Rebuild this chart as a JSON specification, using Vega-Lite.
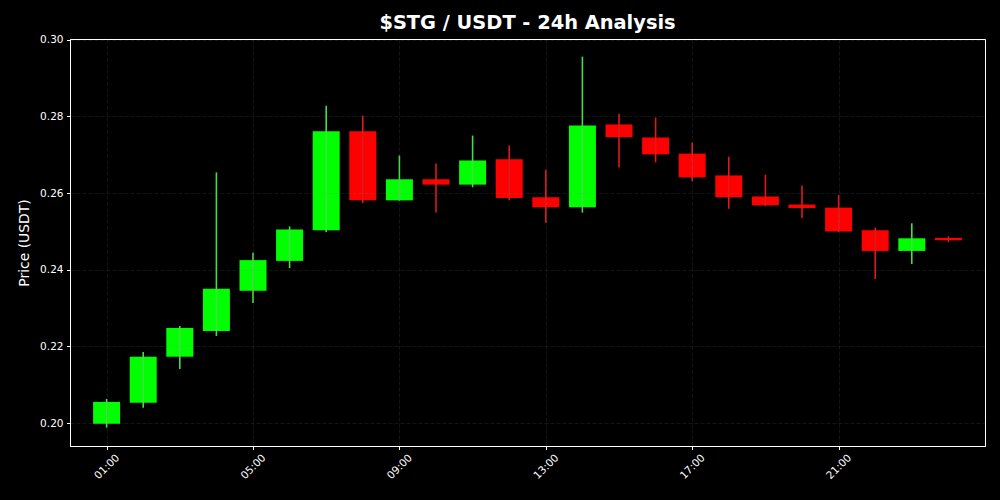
{
  "$schema": "https://vega.github.io/schema/vega-lite/v6.json",
  "width": 915,
  "height": 407,
  "autosize": "none",
  "padding": {"left": 70, "top": 39, "right": 15, "bottom": 54},
  "background": "#000000",
  "title": {"text": "$STG / USDT - 24h Analysis", "font": "DejaVu Sans", "fontSize": 19.4, "fontWeight": "bold", "color": "#ffffff", "offset": 1, "anchor": "middle"},
  "config": {
    "view": {"stroke": "#ffffff", "strokeWidth": 1, "fill": "#000000"},
    "axis": {"labelFont": "DejaVu Sans", "titleFont": "DejaVu Sans", "labelColor": "#ffffff", "titleColor": "#ffffff", "domainColor": "#ffffff", "tickColor": "#ffffff", "tickSize": 3.5, "gridColor": "#808080", "gridOpacity": 0.2, "gridDash": [4, 2], "gridWidth": 0.8}
  },
  "data": {"values": [
    {"hour": 1, "open": 0.1998, "high": 0.2063, "low": 0.1988, "close": 0.2055, "dir": "up"},
    {"hour": 2, "open": 0.2053, "high": 0.2185, "low": 0.2040, "close": 0.2173, "dir": "up"},
    {"hour": 3, "open": 0.2173, "high": 0.2253, "low": 0.2141, "close": 0.2248, "dir": "up"},
    {"hour": 4, "open": 0.2240, "high": 0.2654, "low": 0.2227, "close": 0.2350, "dir": "up"},
    {"hour": 5, "open": 0.2345, "high": 0.2444, "low": 0.2313, "close": 0.2425, "dir": "up"},
    {"hour": 6, "open": 0.2423, "high": 0.2513, "low": 0.2404, "close": 0.2505, "dir": "up"},
    {"hour": 7, "open": 0.2503, "high": 0.2828, "low": 0.2498, "close": 0.2761, "dir": "up"},
    {"hour": 8, "open": 0.2761, "high": 0.2802, "low": 0.2574, "close": 0.2581, "dir": "down"},
    {"hour": 9, "open": 0.2581, "high": 0.2698, "low": 0.2580, "close": 0.2636, "dir": "up"},
    {"hour": 10, "open": 0.2636, "high": 0.2677, "low": 0.2549, "close": 0.2622, "dir": "down"},
    {"hour": 11, "open": 0.2622, "high": 0.2750, "low": 0.2615, "close": 0.2685, "dir": "up"},
    {"hour": 12, "open": 0.2688, "high": 0.2724, "low": 0.2581, "close": 0.2587, "dir": "down"},
    {"hour": 13, "open": 0.2589, "high": 0.2661, "low": 0.2522, "close": 0.2563, "dir": "down"},
    {"hour": 14, "open": 0.2563, "high": 0.2956, "low": 0.2549, "close": 0.2776, "dir": "up"},
    {"hour": 15, "open": 0.2779, "high": 0.2807, "low": 0.2667, "close": 0.2746, "dir": "down"},
    {"hour": 16, "open": 0.2745, "high": 0.2797, "low": 0.2680, "close": 0.2701, "dir": "down"},
    {"hour": 17, "open": 0.2703, "high": 0.2732, "low": 0.2631, "close": 0.2641, "dir": "down"},
    {"hour": 18, "open": 0.2646, "high": 0.2695, "low": 0.2559, "close": 0.2589, "dir": "down"},
    {"hour": 19, "open": 0.2591, "high": 0.2648, "low": 0.2566, "close": 0.2568, "dir": "down"},
    {"hour": 20, "open": 0.2570, "high": 0.2620, "low": 0.2535, "close": 0.2561, "dir": "down"},
    {"hour": 21, "open": 0.2562, "high": 0.2595, "low": 0.2498, "close": 0.2500, "dir": "down"},
    {"hour": 22, "open": 0.2503, "high": 0.2510, "low": 0.2376, "close": 0.2449, "dir": "down"},
    {"hour": 23, "open": 0.2449, "high": 0.2521, "low": 0.2415, "close": 0.2482, "dir": "up"},
    {"hour": 24, "open": 0.2483, "high": 0.2487, "low": 0.2472, "close": 0.2477, "dir": "down"}
  ]},
  "encoding": {
    "x": {"field": "hour", "type": "quantitative", "scale": {"domain": [0, 25], "nice": false, "zero": false, "padding": 0},
      "axis": {"title": null, "values": [1, 5, 9, 13, 17, 21], "labelExpr": "(datum.value < 10 ? '0' : '') + datum.value + ':00'", "labelAngle": -45, "labelAlign": "center", "labelBaseline": "middle", "labelPadding": 17, "labelFontSize": 10.5, "grid": true, "zindex": 1}}
  },
  "layer": [
    {
      "mark": {"type": "bar", "size": 27},
      "encoding": {
        "y": {"field": "open", "type": "quantitative", "scale": {"domain": [0.194, 0.3002], "nice": false, "zero": false},
          "axis": {"title": "Price (USDT)", "titleFontSize": 13.9, "titleFontWeight": "normal", "titlePadding": 8, "values": [0.20, 0.22, 0.24, 0.26, 0.28, 0.30], "format": ".2f", "labelFontSize": 10.5, "labelPadding": 3.5, "grid": true, "zindex": 1}},
        "y2": {"field": "close"},
        "color": {"field": "dir", "type": "nominal", "scale": {"domain": ["up", "down"], "range": ["#00ff00", "#ff0000"]}, "legend": null}
      }
    },
    {
      "mark": {"type": "rule", "strokeWidth": 1.6},
      "encoding": {
        "y": {"field": "low", "type": "quantitative"},
        "y2": {"field": "high"},
        "color": {"field": "dir", "type": "nominal", "scale": {"domain": ["up", "down"], "range": ["#44dd44", "#e01818"]}, "legend": null}
      }
    }
  ],
  "resolve": {"scale": {"color": "independent"}}
}
